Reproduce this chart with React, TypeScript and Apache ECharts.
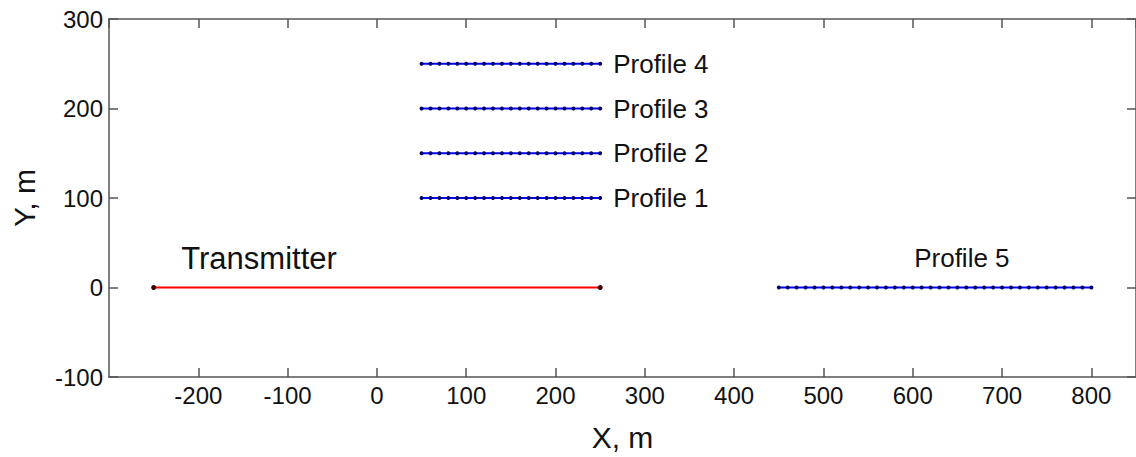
import React, { useEffect, useRef } from "react";
import * as echarts from "echarts";

// ---- Data ----
const profileX = [50, 60, 70, 80, 90, 100, 110, 120, 130, 140, 150, 160, 170, 180, 190, 200, 210, 220, 230, 240, 250];
const profileYs = [100, 150, 200, 250];
const profileNames = ["Profile 1", "Profile 2", "Profile 3", "Profile 4"];
const profile5X = [450, 460, 470, 480, 490, 500, 510, 520, 530, 540, 550, 560, 570, 580, 590, 600, 610, 620, 630, 640, 650, 660, 670, 680, 690, 700, 710, 720, 730, 740, 750, 760, 770, 780, 790, 800];
const profile5Y = 0;
const transmitterX = [-250, 250];
const transmitterY = 0;
const xTicks = { min: -300, max: 850, interval: 100 };
const yTicks = { min: -100, max: 300, interval: 100 };
// annotation anchors (data coords)
const transmitterLabelAt = [-132, 32];
const profile5LabelAt = [655, 33];

const FONT = "'Liberation Sans', Arial, Helvetica, sans-serif";
const AXIS_COLOR = "#555";
const TEXT_COLOR = "#111";

export default function App() {
  const ref = useRef<HTMLDivElement>(null);
  useEffect(() => {
    document.body.style.margin = "0";
    const chart = echarts.init(ref.current!, undefined, { renderer: "svg" });

    const profileSeries = profileYs.map((y, i) => ({
      type: "line",
      name: profileNames[i],
      data: profileX.map((x) => [x, y]),
      symbol: "circle",
      symbolSize: 4,
      showAllSymbol: true,
      lineStyle: { color: "#0000ff", width: 2.2 },
      itemStyle: { color: "#000066" },
      endLabel: {
        show: true,
        formatter: profileNames[i],
        distance: 13,
        color: TEXT_COLOR,
        fontSize: 26,
        fontFamily: FONT,
      },
      z: 3,
    }));

    const axisLineStyle = { color: AXIS_COLOR, width: 1.5 };

    const option = {
      animation: false,
      backgroundColor: "#fff",
      grid: { left: 109, top: 19, width: 1031, height: 359, containLabel: false },
      xAxis: [
        {
          type: "value",
          min: xTicks.min,
          max: xTicks.max,
          interval: xTicks.interval,
          position: "bottom",
          name: "X, m",
          nameLocation: "middle",
          nameGap: 45,
          nameTextStyle: { fontSize: 30, color: TEXT_COLOR, fontFamily: FONT },
          axisLine: { show: true, onZero: false, lineStyle: axisLineStyle },
          axisTick: { show: true, inside: true, length: 9, lineStyle: axisLineStyle },
          axisLabel: { fontSize: 24, color: TEXT_COLOR, fontFamily: FONT, margin: 6, showMinLabel: false, showMaxLabel: false },
          splitLine: { show: false },
        },
        {
          type: "value",
          min: xTicks.min,
          max: xTicks.max,
          interval: xTicks.interval,
          position: "top",
          axisLine: { show: true, onZero: false, lineStyle: axisLineStyle },
          axisTick: { show: true, inside: true, length: 9, lineStyle: axisLineStyle },
          axisLabel: { show: false },
          splitLine: { show: false },
        },
      ],
      yAxis: [
        {
          type: "value",
          min: yTicks.min,
          max: yTicks.max,
          interval: yTicks.interval,
          position: "left",
          name: "Y, m",
          nameLocation: "middle",
          nameGap: 70,
          nameTextStyle: { fontSize: 30, color: TEXT_COLOR, fontFamily: FONT },
          axisLine: { show: true, onZero: false, lineStyle: axisLineStyle },
          axisTick: { show: true, inside: true, length: 9, lineStyle: axisLineStyle },
          axisLabel: { fontSize: 24, color: TEXT_COLOR, fontFamily: FONT, margin: 6 },
          splitLine: { show: false },
        },
        {
          type: "value",
          min: yTicks.min,
          max: yTicks.max,
          interval: yTicks.interval,
          position: "right",
          axisLine: { show: true, onZero: false, lineStyle: axisLineStyle },
          axisTick: { show: true, inside: true, length: 9, lineStyle: axisLineStyle },
          axisLabel: { show: false },
          splitLine: { show: false },
        },
      ],
      series: [
        {
          type: "line",
          name: "Transmitter",
          data: transmitterX.map((x) => [x, transmitterY]),
          symbol: "circle",
          symbolSize: 5,
          lineStyle: { color: "#ff0000", width: 2 },
          itemStyle: { color: "#3a0000" },
          markPoint: {
            symbol: "circle",
            symbolSize: 0,
            data: [{ coord: transmitterLabelAt, value: "Transmitter" }],
            label: {
              show: true,
              position: "inside",
              formatter: "Transmitter",
              color: TEXT_COLOR,
              fontSize: 31,
              fontFamily: FONT,
            },
          },
          z: 3,
        },
        ...profileSeries,
        {
          type: "line",
          name: "Profile 5",
          data: profile5X.map((x) => [x, profile5Y]),
          symbol: "circle",
          symbolSize: 4,
          showAllSymbol: true,
          lineStyle: { color: "#0000ff", width: 2.2 },
          itemStyle: { color: "#000066" },
          markPoint: {
            symbol: "circle",
            symbolSize: 0,
            data: [{ coord: profile5LabelAt, value: "Profile 5" }],
            label: {
              show: true,
              position: "inside",
              formatter: "Profile 5",
              color: TEXT_COLOR,
              fontSize: 26,
              fontFamily: FONT,
            },
          },
          z: 3,
        },
      ],
    };
    chart.setOption(option as any);
    return () => chart.dispose();
  }, []);
  return <div ref={ref} style={{ width: 1136, height: 457 }} />;
}
